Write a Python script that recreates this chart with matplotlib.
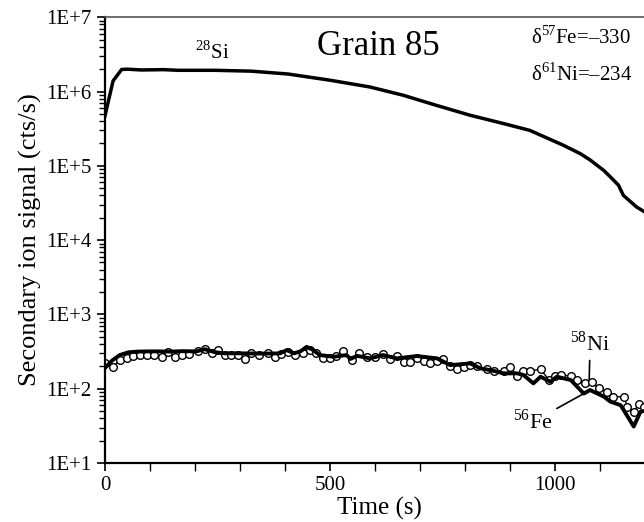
import matplotlib
matplotlib.use('Agg')
import matplotlib.pyplot as plt
from matplotlib.ticker import FixedLocator, LogLocator, NullFormatter

plt.rcParams['font.family'] = ['Liberation Serif', 'DejaVu Serif']
plt.rcParams['mathtext.fontset'] = 'custom'
plt.rcParams['mathtext.rm'] = 'Liberation Serif'

# 28Si signal (cts/s)
si_t = [0, 18, 37, 49, 81, 130, 163, 244, 325, 407, 500, 589, 663, 737, 811,
        886, 944, 1018, 1057, 1078, 1108, 1122, 1141, 1152, 1181, 1204]
si_v = [4.7e5, 1.39e6, 1.98e6, 2.0e6, 1.95e6, 1.97e6, 1.93e6, 1.93e6, 1.88e6,
        1.72e6, 1.42e6, 1.15e6, 8.9e5, 6.5e5, 4.8e5, 3.7e5, 3.0e5, 1.9e5,
        1.45e5, 1.2e5, 8.7e4, 7.2e4, 5.5e4, 4.0e4, 2.8e4, 2.3e4]

# 56Fe signal
fe_t = [0, 16, 33, 52, 73, 98, 122, 146, 171, 203, 222, 244, 267, 293, 325,
        358, 389, 404, 420, 435, 448, 463, 477, 508, 537, 545, 560, 589, 618,
        648, 693, 738, 767, 812, 834, 856, 886, 916, 930, 952, 968, 990, 1004,
        1035, 1064, 1078, 1109, 1123, 1146, 1175, 1190, 1204]
fe_v = [190, 240, 284, 309, 316, 318, 318, 316, 320, 318, 340, 310, 299, 300,
        298, 297, 299, 331, 299, 320, 366, 331, 284, 269, 284, 251, 277, 256,
        284, 256, 275, 256, 208, 219, 188, 178, 161, 161, 153, 118, 145, 124,
        145, 131, 86, 96, 78, 67, 60, 31, 49, 51]

# 58Ni signal
ni_t = [0, 18, 33, 49, 63, 78, 94, 110, 126, 141, 155, 171, 187, 207, 222,
        237, 252, 267, 281, 296, 311, 325, 342, 363, 377, 392, 407, 423, 439,
        455, 470, 485, 499, 514, 529, 548, 564, 582, 600, 618, 634, 648, 664,
        678, 693, 708, 723, 738, 752, 767, 782, 797, 812, 826, 849, 864, 886,
        901, 916, 930, 945, 968, 986, 1000, 1013, 1035, 1049, 1067, 1082,
        1097, 1116, 1130, 1153, 1161, 1175, 1187, 1197]
ni_v = [219, 197, 243, 261, 275, 284, 286, 284, 270, 314, 270, 284, 290, 320,
        340, 299, 331, 284, 280, 284, 251, 299, 280, 305, 270, 290, 314, 284,
        299, 331, 299, 261, 256, 277, 320, 245, 305, 270, 269, 292, 248, 275,
        230, 230, 263, 237, 224, 237, 248, 202, 182, 194, 208, 202, 182, 175,
        175, 197, 148, 175, 175, 182, 133, 148, 153, 148, 131, 120, 124, 101,
        91, 78, 78, 57, 49, 63, 57]

fig = plt.figure(figsize=(6.44, 5.22), dpi=100)
ax = fig.add_axes([0.163, 0.113, 0.8525, 0.854])

ax.plot(si_t, si_v, color='black', lw=2.5, solid_joinstyle='round')
ax.plot(ni_t, ni_v, color='black', lw=1.0, marker='o', ms=5.5,
        mfc='white', mec='black', mew=1.0)
ax.plot(fe_t, fe_v, color='black', lw=2.8, solid_joinstyle='round')

ax.set_yscale('log')
ax.set_ylim(10, 1e7)
ax.set_xlim(0, 1220)

ax.set_yticks([1e1, 1e2, 1e3, 1e4, 1e5, 1e6, 1e7])
ax.set_yticklabels(['1E+1', '1E+2', '1E+3', '1E+4', '1E+5', '1E+6', '1E+7'])
ax.yaxis.set_minor_locator(LogLocator(base=10, subs=range(2, 10), numticks=20))
ax.yaxis.set_minor_formatter(NullFormatter())
ax.set_xticks([0, 500, 1000])
ax.xaxis.set_minor_locator(FixedLocator(range(0, 1300, 100)))

ax.tick_params(axis='both', which='major', direction='out', length=6,
               width=1.2, labelsize=15, colors='black')
ax.tick_params(axis='both', which='minor', direction='out', length=4,
               width=1.0)
ax.tick_params(axis='x', which='both', length=6)

for side in ['left', 'bottom']:
    ax.spines[side].set_linewidth(1.6)
ax.spines['top'].set_linewidth(1.2)
ax.spines['top'].set_color('#555555')

ax.set_xlabel('Time (s)', fontsize=18, labelpad=1)
ax.set_ylabel('Secondary ion signal (cts/s)', fontsize=19, labelpad=3)

ax.text(238, 3.4e6, r'$^{28}$Si', fontsize=15, ha='center', va='center')
ax.text(607, 4.0e6, 'Grain 85', fontsize=25, ha='center', va='center')
ax.text(947, 5.3e6, '\u03b4$^{57}$Fe=\u2013330', fontsize=15, ha='left',
        va='center')
ax.text(947, 1.7e6, '\u03b4$^{61}$Ni=\u2013234', fontsize=15, ha='left',
        va='center')

ax.annotate(r'$^{58}$Ni', xy=(1076, 131), xytext=(1078, 400), fontsize=16,
            ha='center', va='center',
            arrowprops=dict(arrowstyle='-', color='black', lw=1.2,
                            shrinkA=1, shrinkB=0))
ax.annotate(r'$^{56}$Fe', xy=(1061, 84), xytext=(951, 36), fontsize=16,
            ha='center', va='center',
            arrowprops=dict(arrowstyle='-', color='black', lw=1.2,
                            shrinkA=1, shrinkB=0))

fig.savefig('out.png', dpi=100)
